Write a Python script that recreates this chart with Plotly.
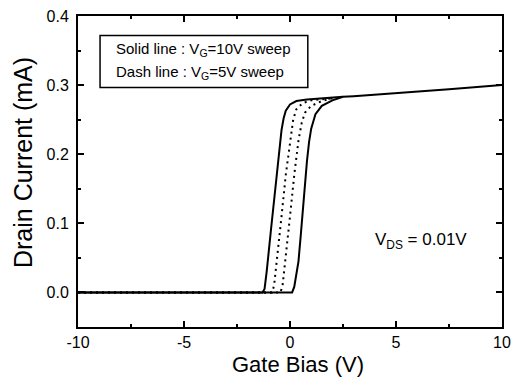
import plotly.graph_objects as go

# Solid line: VG=10V sweep (forward / backward branches)
solid_fwd_x = [-10, -5, 0, 0.1, 0.2, 0.3, 0.4, 0.5, 0.6, 0.7, 0.8, 0.9, 1.0, 1.2, 1.5, 2.0, 2.5, 3.0, 5.0, 7.5, 10]
solid_fwd_y = [0, 0, 0, 0.0, 0.008, 0.025, 0.045, 0.08, 0.118, 0.155, 0.19, 0.218, 0.237, 0.258, 0.27, 0.278, 0.283, 0.284, 0.288, 0.294, 0.300]
solid_bwd_x = [-10, -5, -1.3, -1.2, -1.1, -0.9, -0.7, -0.5, -0.4, -0.3, -0.2, 0.0, 0.3, 0.8, 1.5, 2.5]
solid_bwd_y = [0, 0, 0, 0.005, 0.03, 0.09, 0.15, 0.21, 0.235, 0.252, 0.263, 0.272, 0.277, 0.279, 0.281, 0.283]

# Dash line: VG=5V sweep
dash_bwd_x = [-10, -5, -0.85, -0.75, -0.6, -0.4, -0.2, 0.0, 0.15, 0.3, 0.6, 1.0, 2.0]
dash_bwd_y = [0, 0, 0, 0.01, 0.05, 0.11, 0.17, 0.22, 0.25, 0.265, 0.274, 0.278, 0.281]
dash_fwd_x = [-10, -5, -0.45, -0.35, -0.2, 0.0, 0.2, 0.4, 0.55, 0.7, 1.0, 1.5, 2.0]
dash_fwd_y = [0, 0, 0, 0.01, 0.05, 0.11, 0.17, 0.22, 0.245, 0.26, 0.27, 0.277, 0.281]

x_ticks = [-10, -5, 0, 5, 10]
x_tick_labels = ["-10", "-5", "0", "5", "10"]
y_ticks = [0, 0.1, 0.2, 0.3, 0.4]
y_tick_labels = ["0.0", "0.1", "0.2", "0.3", "0.4"]

fig = go.Figure()
for x, y in [(solid_fwd_x, solid_fwd_y), (solid_bwd_x, solid_bwd_y)]:
    fig.add_trace(go.Scatter(x=x, y=y, mode="lines", line=dict(color="black", width=2), showlegend=False))
for x, y in [(dash_bwd_x, dash_bwd_y), (dash_fwd_x, dash_fwd_y)]:
    fig.add_trace(go.Scatter(x=x, y=y, mode="lines", line=dict(color="black", width=2, dash="2px,4px"), showlegend=False))

font = dict(family="Liberation Sans, Arial", color="black")
axis_common = dict(showline=True, linecolor="black", linewidth=2, mirror="ticks",
                   ticks="inside", ticklen=6, tickwidth=1.5, tickcolor="black",
                   showgrid=False, zeroline=False,
                   tickfont=dict(size=16, **font),
                   minor=dict(ticks="inside", ticklen=3, tickwidth=1.5, tickcolor="black"))

fig.update_xaxes(range=[-10, 10], tickvals=x_ticks, ticktext=x_tick_labels, minor_dtick=2.5, **axis_common)
fig.update_yaxes(range=[-0.05, 0.4], tickvals=y_ticks, ticktext=y_tick_labels, minor_dtick=0.05,
                 ticklabelstandoff=4, **axis_common)

fig.add_annotation(xref="paper", yref="paper", x=0.519, y=-0.122, xanchor="center", yanchor="middle",
                   text="Gate Bias (V)", showarrow=False, font=dict(size=22, **font))
fig.add_annotation(xref="paper", yref="paper", x=-0.13, y=0.53, xanchor="center", yanchor="middle",
                   text="Drain Current (mA)", textangle=-90, showarrow=False, font=dict(size=25, **font))

fig.add_shape(type="rect", xref="paper", yref="paper", x0=0.052, x1=0.542, y0=0.77, y1=0.937,
              line=dict(color="black", width=1.5), fillcolor="white")
fig.add_annotation(xref="paper", yref="paper", x=0.085, y=0.893, xanchor="left", yanchor="middle",
                   text="Solid line : V<sub>G</sub>=10V sweep", showarrow=False, font=dict(size=15, **font))
fig.add_annotation(xref="paper", yref="paper", x=0.085, y=0.818, xanchor="left", yanchor="middle",
                   text="Dash line : V<sub>G</sub>=5V sweep", showarrow=False, font=dict(size=15, **font))
fig.add_annotation(x=6.2, y=0.075, xanchor="center", yanchor="middle",
                   text="V<sub>DS</sub> = 0.01V", showarrow=False, font=dict(size=17, **font))

fig.update_layout(width=525, height=383, margin=dict(l=78, r=23, t=8, b=56),
                  plot_bgcolor="white", paper_bgcolor="white", showlegend=False)
fig.write_html("out.html")
